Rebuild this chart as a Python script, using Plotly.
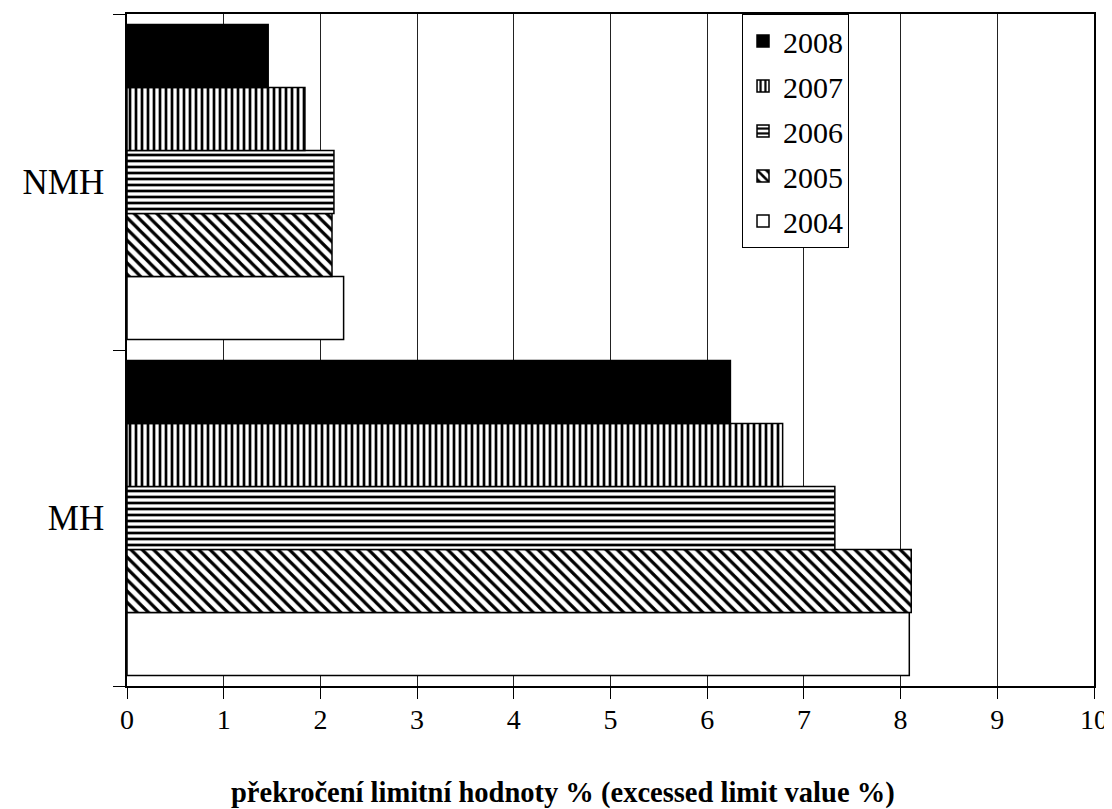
import plotly.graph_objects as go

categories = ["MH", "NMH"]
years = ["2004", "2005", "2006", "2007", "2008"]
values = {
    "2004": [8.09, 2.24],
    "2005": [8.11, 2.12],
    "2006": [7.32, 2.14],
    "2007": [6.78, 1.84],
    "2008": [6.24, 1.46],
}
x_ticks = list(range(0, 11))
x_title = "překročení limitní hodnoty % (excessed limit value %)"

styles = {
    "2004": dict(color="white", pattern=dict(shape="")),
    "2005": dict(color="white", pattern=dict(shape="\\", fgcolor="black", bgcolor="white", size=8, solidity=0.4, fillmode="replace")),
    "2006": dict(color="white", pattern=dict(shape="-", fgcolor="black", bgcolor="white", size=6, solidity=0.45, fillmode="replace")),
    "2007": dict(color="white", pattern=dict(shape="|", fgcolor="black", bgcolor="white", size=6, solidity=0.45, fillmode="replace")),
    "2008": dict(color="black", pattern=dict(shape="")),
}

FONT = "Liberation Serif, Times New Roman, serif"

fig = go.Figure()
for i, yr in enumerate(years):
    st = styles[yr]
    fig.add_trace(go.Bar(
        x=values[yr], y=categories, orientation="h", name=yr,
        legendgroup=yr, legendrank=len(years) - i,
        marker=dict(color=st["color"], pattern=st["pattern"],
                    line=dict(color="black", width=1.5)),
    ))

# page body has an 8px margin; figure is sized/offset to compensate
fig.update_layout(
    width=1104, height=801,
    margin=dict(l=119, r=18, t=6, b=123),
    barmode="group", bargap=0.0625, bargroupgap=0,
    plot_bgcolor="white", paper_bgcolor="white",
    font=dict(family=FONT, color="black"),
    showlegend=True,
    legend=dict(
        x=0.636, y=1.0, xanchor="left", yanchor="top",
        traceorder="grouped", tracegroupgap=3,
        bordercolor="black", borderwidth=1, bgcolor="white",
        font=dict(family=FONT, size=30, color="black"),
    ),
    xaxis=dict(
        range=[0, 10], tickvals=x_ticks, ticktext=[str(t) for t in x_ticks],
        showgrid=True, gridcolor="#222", gridwidth=1,
        showline=True, linecolor="black", linewidth=1.5, mirror=True,
        ticks="outside", ticklen=11, tickcolor="black",
        tickfont=dict(family=FONT, size=28, color="black"),
        ticklabelstandoff=-3,
        zeroline=False, automargin=False,
    ),
    yaxis=dict(
        categoryorder="array", categoryarray=categories,
        showgrid=False,
        showline=True, linecolor="black", linewidth=1.5, mirror=True,
        ticks="outside", ticklen=12, tickcolor="black", tickson="boundaries",
        tickfont=dict(family=FONT, size=35, color="black"),
        ticklabelstandoff=14,
        zeroline=False, automargin=False,
    ),
    annotations=[dict(
        text="<b>" + x_title + "</b>", xref="paper", yref="paper",
        x=0.451, y=-0.159, xanchor="center", yanchor="middle", showarrow=False,
        font=dict(family=FONT, size=28.5, color="black"),
    )],
)

fig.write_html("out.html")
